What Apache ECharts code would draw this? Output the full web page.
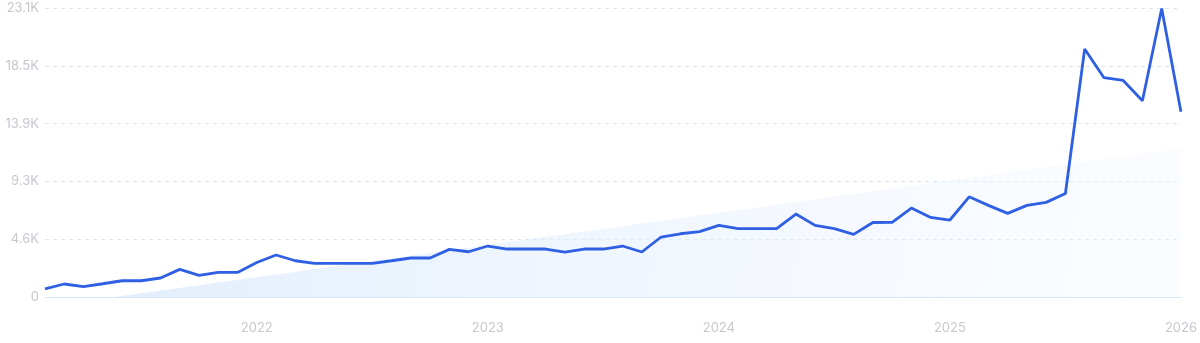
<!DOCTYPE html>
<html>
<head>
<meta charset="utf-8">
<script src="https://cdn.jsdelivr.net/npm/echarts@6/dist/echarts.min.js"></script>
<style>
html,body{margin:0;padding:0;background:#fff;}
#chart{width:1200px;height:343px;}
</style>
</head>
<body>
<div id="chart"></div>
<script>
var categories = [
  '2021-02','2021-03','2021-04','2021-05','2021-06','2021-07','2021-08','2021-09','2021-10','2021-11','2021-12',
  '2022-01','2022-02','2022-03','2022-04','2022-05','2022-06','2022-07','2022-08','2022-09','2022-10','2022-11','2022-12',
  '2023-01','2023-02','2023-03','2023-04','2023-05','2023-06','2023-07','2023-08','2023-09','2023-10','2023-11','2023-12',
  '2024-01','2024-02','2024-03','2024-04','2024-05','2024-06','2024-07','2024-08','2024-09','2024-10','2024-11','2024-12',
  '2025-01','2025-02','2025-03','2025-04','2025-05','2025-06','2025-07','2025-08','2025-09','2025-10','2025-11','2025-12',
  '2026-01'
];
var searches = [
  650, 1040, 830, 1060, 1300, 1300, 1520, 2210, 1730, 1970, 1970,
  2760, 3360, 2900, 2690, 2690, 2690, 2690, 2900, 3120, 3120, 3810, 3620,
  4080, 3840, 3840, 3840, 3600, 3840, 3840, 4080, 3600, 4800, 5060, 5230,
  5730, 5470, 5470, 5470, 6640, 5730, 5470, 5010, 5960, 5970, 7120, 6370,
  6160, 8020, 7330, 6690, 7330, 7570, 8280, 19840, 17550, 17330, 15710, 23090,
  14830
];
var trendStart = -780;
var trendEnd = 11900;
var yTickLabels = ['0', '4.6K', '9.3K', '13.9K', '18.5K', '23.1K'];
var yInterval = 4625;

var trend = categories.map(function (c, i) {
  if (i === 0) return trendStart;
  if (i === categories.length - 1) return trendEnd;
  return null;
});

var chart = echarts.init(document.getElementById('chart'), null, {renderer: 'canvas'});
chart.setOption({
  animation: false,
  backgroundColor: '#ffffff',
  grid: {left: 45, right: 18, top: 8, bottom: 46, containLabel: false},
  xAxis: {
    type: 'category',
    data: categories,
    boundaryGap: false,
    axisLine: {show: true, lineStyle: {color: '#d3e9fb', width: 1}},
    axisTick: {show: false},
    splitLine: {show: false},
    axisLabel: {
      interval: function (idx, val) { return val.slice(5) === '01'; },
      formatter: function (val) { return val.slice(0, 4); },
      color: '#c6c8d0',
      fontFamily: 'Inter',
      fontSize: 13,
      margin: 25
    }
  },
  yAxis: {
    type: 'value',
    min: 0,
    max: yInterval * 5,
    interval: yInterval,
    axisLine: {show: false},
    axisTick: {show: false},
    splitLine: {show: true, lineStyle: {color: '#d5e8fb', type: [4, 4], width: 1}},
    axisLabel: {
      formatter: function (v) { return yTickLabels[Math.round(v / yInterval)]; },
      color: '#c6c8d0',
      fontFamily: 'Inter',
      fontSize: 13,
      margin: 6
    }
  },
  series: [
    {
      type: 'line',
      data: trend,
      connectNulls: true,
      symbol: 'none',
      lineStyle: {width: 0},
      clip: true,
      z: 1,
      areaStyle: {
        color: new echarts.graphic.LinearGradient(0, 0, 1, 1, [
          {offset: 0, color: 'rgba(208,227,250,0.95)'},
          {offset: 1, color: 'rgba(240,246,255,0.4)'}
        ])
      }
    },
    {
      type: 'line',
      data: searches,
      symbol: 'none',
      z: 3,
      lineStyle: {color: '#2f5fe2', width: 2.8}
    }
  ]
});
</script>
</body>
</html>
